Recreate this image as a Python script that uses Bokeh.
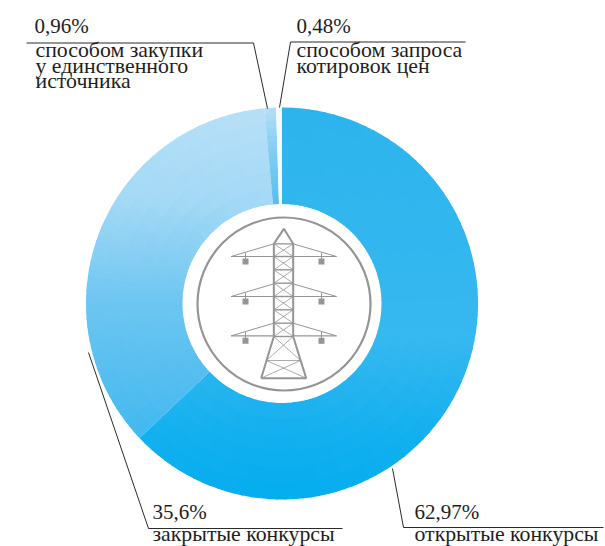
from bokeh.plotting import figure
from bokeh.models import Range1d, ColumnDataSource
from bokeh.core.properties import value
from bokeh.embed import file_html
from bokeh.resources import INLINE
import math

# data
labels = ["открытые конкурсы", "закрытые конкурсы", "способом закупки у единственного источника", "способом запроса котировок цен"]
shares = [62.97, 35.6, 0.96, 0.48]
share_texts = ["62,97%", "35,6%", "0,96%", "0,48%"]

W, H = 605, 546
def X(v): return v
def Y(v): return H - v

p = figure(width=W, height=H, output_backend="svg", toolbar_location=None,
           x_range=Range1d(0, W), y_range=Range1d(0, H), min_border=0,
           background_fill_color="white", border_fill_color="white", outline_line_color=None)
p.axis.visible = False
p.grid.visible = False

CX, CY, R_OUT, R_IN = 281.5, 303, 196, 99.5
total = sum(shares)

def ramp_c(stops, y):
    if y <= stops[0][0]:
        return "#%02x%02x%02x" % stops[0][1]
    for (y0, c0), (y1, c1) in zip(stops[:-1], stops[1:]):
        if y <= y1:
            t = (y - y0) / (y1 - y0)
            return "#%02x%02x%02x" % tuple(round(c0[i] + (c1[i] - c0[i]) * t) for i in range(3))
    return "#%02x%02x%02x" % stops[-1][1]

OPEN_RAMP = [(105, (45, 180, 237)), (340, (54, 184, 240)), (430, (20, 176, 239)), (500, (4, 173, 239))]
CLOSED_RAMP = [(105, (184, 224, 247)), (200, (164, 217, 246)), (300, (110, 198, 241)), (400, (78, 188, 240)), (440, (62, 184, 239))]
THIN_RAMP = [(105, (184, 224, 247)), (150, (130, 205, 243)), (205, (86, 190, 240))]
SLICE_RAMPS = [OPEN_RAMP, CLOSED_RAMP, THIN_RAMP, None]
STEPS = [(90, 6), (60, 6), (1, 14), (1, 1)]

ang = math.pi / 2
for k, s in enumerate(shares):
    sweep = s / total * 2 * math.pi
    na, nr = STEPS[k]
    data = dict(i=[], o=[], a=[], b=[], c=[])
    dr = (R_OUT - R_IN) / nr
    for ia in range(na):
        a0 = ang - sweep * ia / na
        a1 = ang - sweep * (ia + 1) / na
        mid = (a0 + a1) / 2
        for ir in range(nr):
            ri = R_IN + dr * ir
            ro = ri + dr
            y = CY - (ri + ro) / 2 * math.sin(mid)
            c = "#f4fbff" if SLICE_RAMPS[k] is None else ramp_c(SLICE_RAMPS[k], y)
            data["i"].append(ri)
            data["o"].append(min(ro + (1.0 if ir < nr - 1 else 0), R_OUT))
            data["a"].append(a0)
            data["b"].append(a1 - (0.008 if ia < na - 1 else 0))
            data["c"].append(c)
    n = len(data["i"])
    data["x"] = [X(CX)] * n
    data["y"] = [Y(CY)] * n
    p.annular_wedge("x", "y", "i", "o", "a", "b", direction="clock", fill_color="c",
                    line_color=None, source=ColumnDataSource(data))
    ang -= sweep

# central circle
GREY = "#959597"
p.circle([X(283.5)], [Y(303.5)], radius=86.5, fill_color="white", line_color=GREY, line_width=2.2)

def seg(xs, ys, w=1.0, c=GREY):
    p.line([X(a) for a in xs], [Y(b) for b in ys], line_color=c, line_width=w)

# pylon icon (decorative), positions measured in the 3x crop of the reference
tx, ty = 190, 210
def T(zx, zy): return (tx + zx / 3, ty + zy / 3)
def zseg(pts, w=1.0):
    q = [T(*a) for a in pts]
    seg([a[0] for a in q], [a[1] for a in q], w)

zseg([(212, 503), (250, 378), (250, 100), (280, 55), (308, 100), (308, 378), (347, 503), (212, 503)], 2.0)
levels = [100, 138, 178, 218, 258, 298, 338, 378]
for y in levels:
    zseg([(250, y), (308, y)], 1.4)
for a, b in zip(levels[:-1], levels[1:]):
    zseg([(250, a), (308, b)], 0.8)
    zseg([(308, a), (250, b)], 0.8)
zseg([(228, 450), (330, 450)], 0.8)
zseg([(250, 378), (330, 450)], 0.8)
zseg([(308, 378), (228, 450)], 0.8)
zseg([(228, 450), (347, 503)], 0.8)
zseg([(330, 450), (212, 503)], 0.8)
for arm_y, cross_y in [(100, 138), (220, 258), (338, 376)]:
    zseg([(122, cross_y), (250, cross_y)], 1.2)
    zseg([(308, cross_y), (438, cross_y)], 1.2)
    zseg([(122, cross_y), (250, arm_y)], 1.0)
    zseg([(438, cross_y), (308, arm_y)], 1.0)
    for hx in (165, 393):
        zseg([(hx, cross_y - 12), (hx, cross_y + 8)], 1.0)
        q = T(hx, cross_y + 15)
        p.scatter([X(q[0])], [Y(q[1])], marker="square", size=6, fill_color=GREY, line_color=None)

# leaders
INK = "#2b2b2b"
seg([26, 253, 267], [42.5, 42.5, 108], 1.0, INK)
seg([465, 290, 279], [41.5, 41.5, 107], 1.0, INK)
seg([88, 148, 342], [352, 528, 528], 1.0, INK)
seg([392, 403, 603], [468, 527, 527], 1.0, INK)

FONT = value("Liberation Serif")
DY = 8  # the page draws these texts this far below the requested baseline
def text(x, baseline, s, size):
    p.text([X(x)], [Y(baseline - DY)], text=[s], text_font=FONT, text_font_size=size,
           text_color="#1e1e1e", text_align="left", text_baseline="alphabetic")

text(34, 33, share_texts[2], "21px")
text(296, 33, share_texts[3], "21px")
text(152, 519, share_texts[1], "21px")
text(414, 519, share_texts[0], "21px")

for x, b, s in [(35, 57, "способом закупки"), (35, 73, "у единственного"), (35, 88, "источника"),
                (296, 57, "способом запроса"), (296, 73, "котировок цен"),
                (152, 541, labels[1]), (414, 541, labels[0])]:
    text(x, b, s, "21.8px")

open("out.html", "w").write(file_html(p, INLINE))
